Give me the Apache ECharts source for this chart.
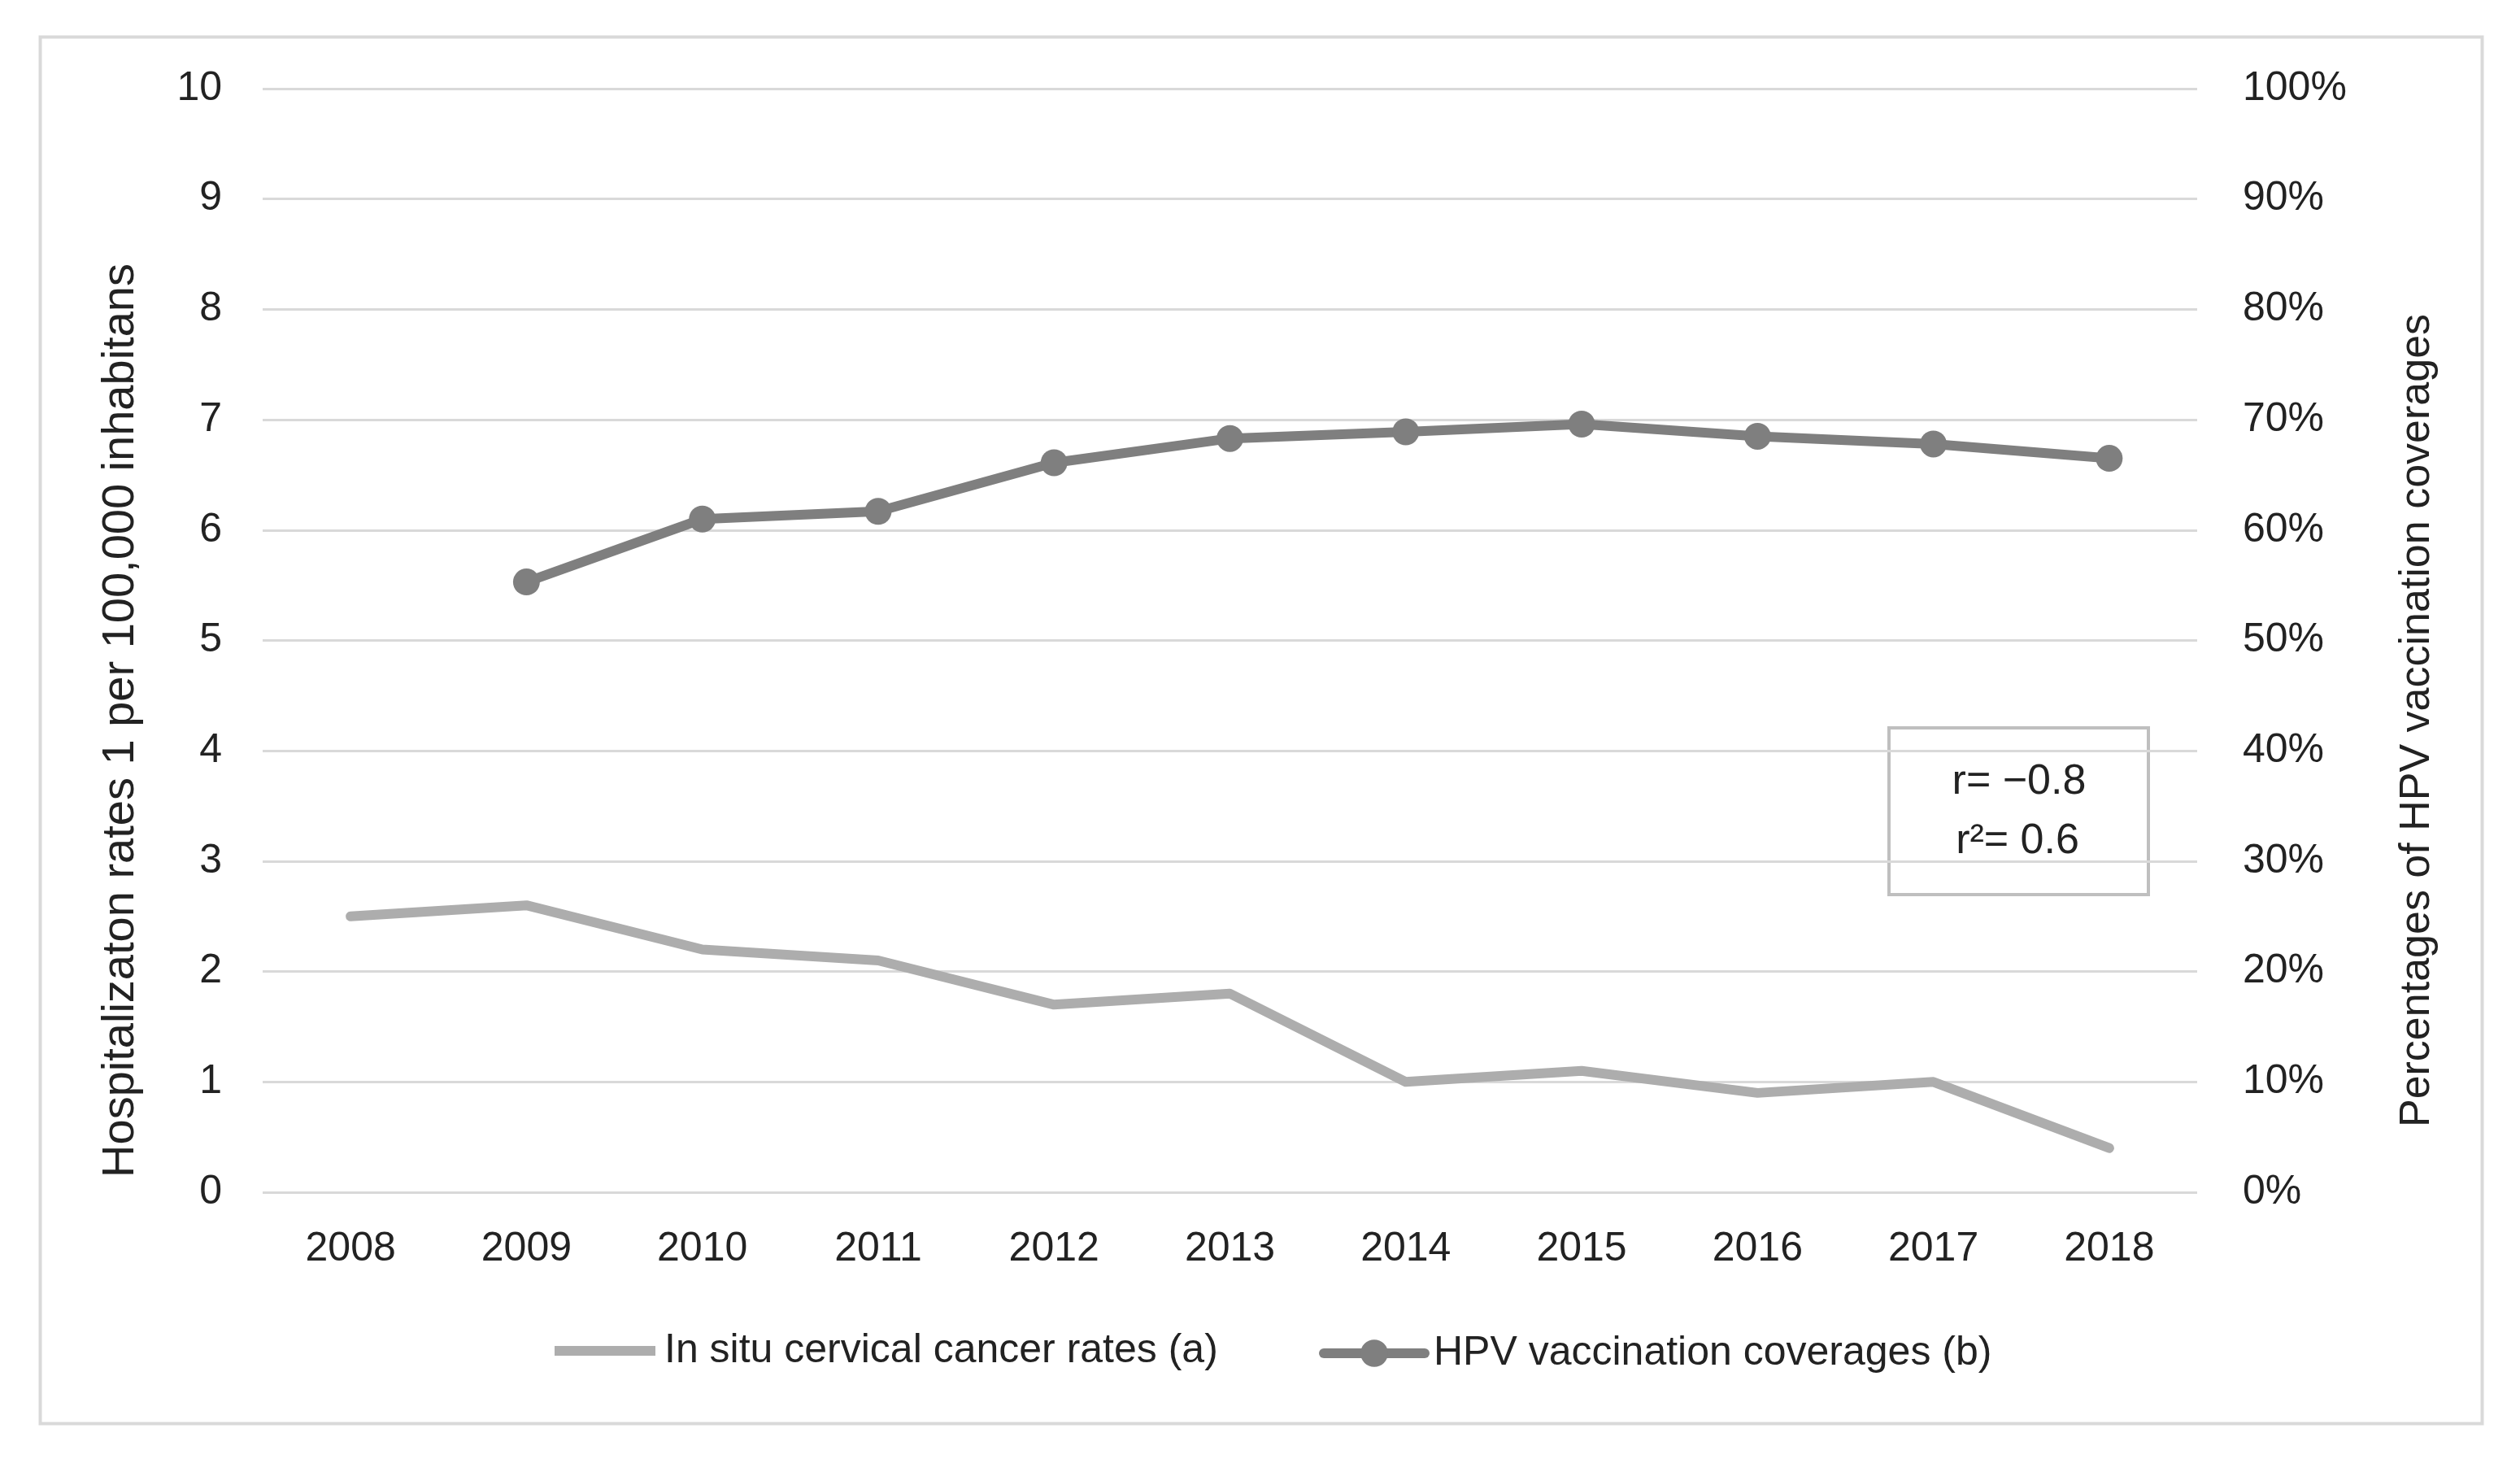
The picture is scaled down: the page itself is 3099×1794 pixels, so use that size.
<!DOCTYPE html>
<html>
<head>
<meta charset="utf-8">
<script src="https://cdn.jsdelivr.net/npm/echarts@6/dist/echarts.min.js"></script>
<style>
html,body{margin:0;padding:0;background:#fff;}
#chart{width:3099px;height:1794px;}
</style>
</head>
<body>
<div id="chart"></div>
<script>
const years = ['2008','2009','2010','2011','2012','2013','2014','2015','2016','2017','2018'];
const cancerRates = [2.5, 2.6, 2.2, 2.1, 1.7, 1.8, 1.0, 1.1, 0.9, 1.0, 0.4];
const vaccCoverage = [null, 0.553, 0.610, 0.617, 0.661, 0.683, 0.689, 0.696, 0.685, 0.678, 0.665];
const seriesNames = ['In situ cervical cancer rates (a)', 'HPV vaccination coverages (b)'];
const leftTitle = 'Hospitalizaton rates 1 per 100,000 inhabitans';
const rightTitle = 'Percentages of HPV vaccination coverages';
const annotLines = ['r= \u22120.8', 'r\u00b2= 0.6'];

const FONT = '"Liberation Sans", Arial, sans-serif';
const TXT = '#222';
const chart = echarts.init(document.getElementById('chart'), null, {renderer:'canvas'});
const option = {
  backgroundColor: '#fff',
  animation: false,
  textStyle: {fontFamily: FONT},
  grid: {left: 323, right: 397, top: 109, bottom: 328, containLabel: false},
  legend: [{
    top: 1636, left: 682, padding: 0,
    itemWidth: 124, itemHeight: 12, itemGap: 12,
    icon: 'rect',
    textStyle: {fontSize: 50, color: TXT, fontFamily: FONT, padding: [0,0,0,6]},
    data: [seriesNames[0]]
  }, {
    top: 1639, left: 1622, padding: 0,
    itemWidth: 124, itemHeight: 42,
    lineStyle: {width: 12},
    textStyle: {fontSize: 50, color: TXT, fontFamily: FONT, padding: [0,0,0,6]},
    data: [seriesNames[1]]
  }],
  xAxis: {
    type: 'category', data: years, boundaryGap: true,
    axisLine: {show: false}, axisTick: {show: false},
    axisLabel: {fontSize: 50, color: TXT, margin: 45, fontFamily: FONT},
    splitLine: {show: false}
  },
  yAxis: [{
    type: 'value', min: 0, max: 10, interval: 1,
    axisLine: {show: false}, axisTick: {show: false},
    axisLabel: {fontSize: 50, color: TXT, margin: 50, fontFamily: FONT},
    splitLine: {show: true, lineStyle: {color: '#D9D9D9', width: 3}}
  }, {
    type: 'value', min: 0, max: 1, interval: 0.1, position: 'right',
    axisLine: {show: false}, axisTick: {show: false},
    axisLabel: {fontSize: 50, color: TXT, margin: 56, fontFamily: FONT,
      formatter: v => Math.round(v * 100) + '%'},
    splitLine: {show: false}
  }],
  series: [{
    name: seriesNames[0], type: 'line', yAxisIndex: 0, data: cancerRates,
    symbol: 'none', color: '#ADADAD',
    lineStyle: {color: '#ADADAD', width: 12, cap: 'round', join: 'round'}
  }, {
    name: seriesNames[1], type: 'line', yAxisIndex: 1, data: vaccCoverage,
    symbol: 'circle', symbolSize: 33, color: '#7F7F7F',
    itemStyle: {color: '#7F7F7F'},
    lineStyle: {color: '#7F7F7F', width: 12, cap: 'round', join: 'round'}
  }],
  graphic: [{
    type: 'rect', left: 47, top: 43, silent: true,
    shape: {width: 3003, height: 1705},
    style: {fill: 'none', stroke: '#D9D9D9', lineWidth: 4}
  }, {
    type: 'text', x: 149, y: 886, rotation: Math.PI / 2,
    style: {text: leftTitle, fontSize: 56, fontFamily: FONT, fill: TXT, align: 'center', verticalAlign: 'middle'}
  }, {
    type: 'text', x: 2973, y: 886, rotation: Math.PI / 2,
    style: {text: rightTitle, fontSize: 52, fontFamily: FONT, fill: TXT, align: 'center', verticalAlign: 'middle'}
  }, {
    type: 'group', left: 2321, top: 893,
    children: [{
      type: 'rect', shape: {x: 0, y: 0, width: 319, height: 205},
      style: {fill: '#fff', stroke: '#BFBFBF', lineWidth: 4}
    }, {
      type: 'text', x: 160, y: 67,
      style: {text: annotLines[0], fontSize: 52, fontFamily: FONT, fill: TXT, align: 'center', verticalAlign: 'middle'}
    }, {
      type: 'text', x: 158, y: 140,
      style: {text: annotLines[1], fontSize: 52, fontFamily: FONT, fill: TXT, align: 'center', verticalAlign: 'middle'}
    }]
  }]
};
chart.setOption(option);
</script>
</body>
</html>
